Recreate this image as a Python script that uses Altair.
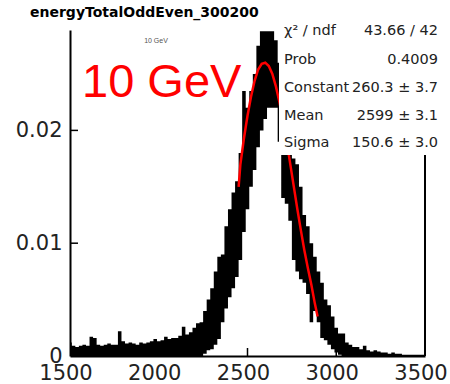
import altair as alt
import pandas as pd

# ---- data ----
bin_x = list(range(1500, 3501, 20))  # histogram bin positions
# upper / lower envelope of the noisy histogram band, in units of 0.001
hist_upper = [
    1.2, 0.9, 0.8, 0.9, 1.0, 0.9, 1.7, 1.6, 1.0, 0.9,
    1.0, 1.1, 1.0, 1.0, 2.2, 1.3, 1.1, 1.2, 1.1, 1.0,
    1.2, 1.1, 1.2, 1.3, 1.5, 1.3, 1.4, 1.7, 1.5, 1.6,
    1.6, 1.8, 2.6, 1.9, 2.1, 2.5, 2.9, 3.0, 4.0, 5.0,
    6.0, 7.5, 8.8, 9.0, 11.5, 13.0, 14.5, 15.5, 18.0, 23.5,
    22.0, 23.5, 25.0, 27.5, 28.8, 28.8, 28.8, 28.8, 28.0, 26.0,
    24.0, 22.0, 19.0, 17.5, 17.0, 15.0, 12.5, 11.5, 10.0, 8.8,
    7.5, 6.5, 5.0, 4.5, 3.5, 2.5, 2.0, 2.0, 1.2, 1.0,
    0.8, 0.8, 0.6, 0.9, 0.5, 0.4, 0.5, 0.4, 0.3, 0.3,
    0.2, 0.3, 0.2, 0.2, 0.1, 0.1, 0.1, 0.1, 0.1, 0.1,
    0.1,
]
hist_lower = [
    0, 0, 0, 0, 0, 0, 0, 0, 0, 0,
    0, 0, 0, 0, 0, 0, 0, 0, 0, 0,
    0, 0, 0, 0, 0, 0, 0, 0, 0, 0,
    0, 0, 0, 0, 0, 0, 0, 0, 0.2, 0.5,
    0.6, 1.0, 1.5, 3.0, 4.2, 5.2, 6.0, 7.0, 8.5, 11.0,
    13.0, 15.0, 16.5, 18.5, 20.0, 21.0, 22.0, 22.0, 22.0, 19.0,
    14.0, 13.5, 12.0, 8.5, 7.5, 6.8, 6.5, 5.5, 3.0, 4.0,
    3.0, 1.6, 1.4, 1.0, 0.6, 0.3, 0.1, 0, 0, 0,
    0, 0, 0, 0, 0, 0, 0, 0, 0, 0,
    0, 0, 0, 0, 0, 0, 0, 0, 0, 0,
    0,
]
assert len(hist_upper) == len(bin_x) == len(hist_lower)

fit_x = [2450, 2460, 2480, 2500, 2520, 2540, 2560, 2580, 2600, 2620, 2640,
         2660, 2680, 2700, 2720, 2740, 2760, 2780, 2800, 2820, 2840, 2860,
         2880, 2895]
fit_y = [15.0, 17.0, 19.3, 21.3, 23.0, 24.4, 25.4, 25.9, 26.0, 25.7, 25.0,
         23.9, 22.5, 20.9, 19.1, 17.1, 15.1, 13.1, 11.2, 9.4, 7.8, 6.3,
         4.6, 3.5]

x_tick_values = [1500, 2000, 2500, 3000, 3500]
y_tick_values = [0, 0.01, 0.02]
x_inner_ticks = [2000, 2500, 3000]
y_inner_ticks = [0.01, 0.02]

stat_names = ["χ² / ndf", "Prob", "Constant", "Mean", "Sigma"]
stat_values = ["43.66 / 42", "0.4009", "260.3 ± 3.7", "2599 ± 3.1", "150.6 ± 3.0"]

title_text = "energyTotalOddEven_300200"
energy_label = "10 GeV"

# ---- tables ----
hist_df = pd.DataFrame({
    "x": bin_x,
    "hi": [v / 1000 for v in hist_upper],
    "lo": [v / 1000 for v in hist_lower],
})
fit_df = pd.DataFrame({"x": fit_x, "y": [v / 1000 for v in fit_y]})
xlab_df = pd.DataFrame({"v": x_tick_values, "t": [str(v) for v in x_tick_values]})
one = pd.DataFrame({"a": [0]})

W, H = 355, 326
xscale = alt.Scale(domain=[1500, 3500], nice=False, zero=False)
yscale = alt.Scale(domain=[0, 0.0289], nice=False)
FONT = "DejaVu Sans"

xaxis = alt.Axis(values=x_tick_values, title=None, grid=False,
                 ticks=False, labels=False, domainColor="black", domainWidth=2,
                 zindex=1)
yaxis = alt.Axis(values=y_tick_values, title=None, grid=False, ticks=False,
                 labelExpr="datum.value == 0 ? '0' : format(datum.value, '.2f')",
                 domainColor="black", domainWidth=2,
                 labelFont=FONT, labelFontSize=21, labelColor="#222",
                 labelPadding=8, labelOverlap=False, zindex=1)

hist = alt.Chart(hist_df).mark_area(
    color="black", interpolate="step", clip=True
).encode(
    x=alt.X("x:Q", scale=xscale, axis=xaxis),
    y=alt.Y("hi:Q", scale=yscale, axis=yaxis),
    y2="lo:Q",
)

fit = alt.Chart(fit_df).mark_line(color="#ff0000", strokeWidth=2.5).encode(
    x=alt.X("x:Q", scale=xscale),
    y=alt.Y("y:Q", scale=yscale),
)

xlabels = alt.Chart(xlab_df).mark_text(
    font=FONT, fontSize=21, color="#222", baseline="top", align="center", dx=-4
).encode(x=alt.X("v:Q", scale=xscale), y=alt.value(H + 7), text="t:N")

xt = alt.Chart(pd.DataFrame({"v": x_inner_ticks})).mark_rule(
    color="black", strokeWidth=1.5
).encode(x=alt.X("v:Q", scale=xscale), y=alt.value(H - 8), y2=alt.value(H))

yt = alt.Chart(pd.DataFrame({"v": y_inner_ticks})).mark_rule(
    color="black", strokeWidth=1.5
).encode(y=alt.Y("v:Q", scale=yscale), x=alt.value(0), x2=alt.value(8))

box = alt.Chart(one).mark_rect(color="white").encode(
    x=alt.value(209), x2=alt.value(380), y=alt.value(-15), y2=alt.value(125)
)

right_frame = alt.Chart(one).mark_rule(color="black", strokeWidth=2).encode(
    x=alt.value(W), y=alt.value(125), y2=alt.value(H)
)

layers = [hist, fit, box, right_frame, xt, yt, xlabels]

baselines = [5, 34, 62, 90, 117]
for name, val, yb in zip(stat_names, stat_values, baselines):
    layers.append(alt.Chart(one).mark_text(
        text=name, align="left", baseline="alphabetic", font=FONT,
        fontSize=14.5, color="#222"
    ).encode(x=alt.value(214), y=alt.value(yb)))
    layers.append(alt.Chart(one).mark_text(
        text=val, align="right", baseline="alphabetic", font=FONT,
        fontSize=14.5, color="#222"
    ).encode(x=alt.value(368), y=alt.value(yb)))

layers.append(alt.Chart(one).mark_text(
    text=title_text, align="left", baseline="alphabetic", font=FONT,
    fontSize=14, fontWeight="bold", color="black"
).encode(x=alt.value(-40), y=alt.value(-13)))

layers.append(alt.Chart(one).mark_text(
    text=energy_label, align="center", baseline="middle", font="Liberation Sans",
    fontSize=7, color="#555"
).encode(x=alt.value(86), y=alt.value(11)))

layers.append(alt.Chart(one).mark_text(
    text=energy_label, align="left", baseline="alphabetic", font="Liberation Sans",
    fontSize=47, color="#ff0000"
).encode(x=alt.value(12), y=alt.value(67)))

chart = alt.layer(*layers).properties(
    width=W, height=H,
    autosize=alt.AutoSizeParams(type="none"),
    padding={"left": 70, "top": 30, "right": 25, "bottom": 28},
    background="white",
).configure_view(stroke=None)

chart.save("out.html", embed_options={"renderer": "svg", "actions": False})
